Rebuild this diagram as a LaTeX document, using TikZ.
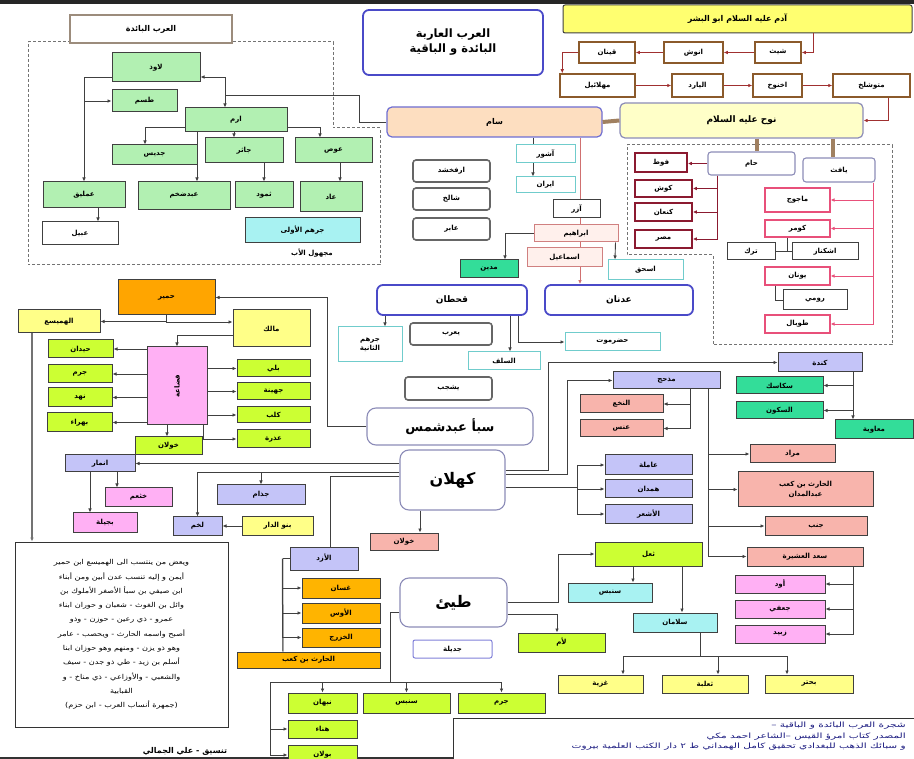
\documentclass[tikz,border=0pt]{standalone}
\usepackage{fontspec}
\usepackage{graphicx}
\usetikzlibrary{arrows.meta,backgrounds}
\newfontfamily\arabicfont[Script=Arabic]{DejaVu Sans}
\newfontfamily\arabicwide[Script=Arabic,FakeStretch=1.45]{DejaVu Sans}
\newfontfamily\arabicmid[Script=Arabic,FakeStretch=1.2]{DejaVu Sans}
\TeXXeTstate=1
\newcommand{\lbl}{\arabicfont\bfseries\fontsize{7}{8}\selectfont}
\definecolor{ggreen}{HTML}{B2F0B2}
\definecolor{limeg}{HTML}{CCFF33}
\definecolor{purp}{HTML}{C4C4F8}
\definecolor{salm}{HTML}{F8B4AC}
\definecolor{magp}{HTML}{FFB0F4}
\definecolor{orng}{HTML}{FFB400}
\definecolor{himy}{HTML}{FFA500}
\definecolor{yel}{HTML}{FFFF88}
\definecolor{adamy}{HTML}{FFFF70}
\definecolor{noahy}{HTML}{FFFFC8}
\definecolor{peach}{HTML}{FDDEC0}
\definecolor{cyanf}{HTML}{A8F2F2}
\definecolor{cyanb}{HTML}{70CCCC}
\definecolor{tealg}{HTML}{33DD99}
\definecolor{brownb}{HTML}{8B5A2B}
\definecolor{hamred}{HTML}{8B1A30}
\definecolor{japk}{HTML}{E8507A}
\definecolor{ibfill}{HTML}{FFF0EC}
\definecolor{ibdraw}{HTML}{D08080}
\definecolor{bgr}{HTML}{8C8CB8}
\definecolor{blueb}{HTML}{4A4AC8}
\definecolor{spinec}{HTML}{4B4BD0}
\definecolor{lc}{HTML}{404040}
\definecolor{arrred}{HTML}{A03030}
\definecolor{redline}{HTML}{D07070}
\definecolor{tanc}{HTML}{A08060}
\definecolor{srcblue}{HTML}{1A1A80}
\definecolor{oldtitle}{HTML}{9C8C7C}
\tikzset{
 bxbase/.style={font=\lbl, inner sep=0pt, line width=1pt, draw=black!75},
 gbox/.style={bxbase, fill=ggreen},
 lbox/.style={bxbase, fill=limeg},
 pbox/.style={bxbase, fill=purp},
 sbox/.style={bxbase, fill=salm},
 mbox/.style={bxbase, fill=magp},
 obox/.style={bxbase, fill=orng},
 ybox/.style={bxbase, fill=yel},
 cbox/.style={bxbase, fill=cyanf},
 cwbox/.style={bxbase, fill=white, draw=cyanb},
 tbox/.style={bxbase, fill=tealg},
 kbox/.style={bxbase, fill=white},
 brbox/.style={bxbase, fill=white, draw=brownb, line width=1.5pt},
 hbox/.style={bxbase, fill=white, draw=hamred, line width=1.6pt},
 jbox/.style={bxbase, fill=white, draw=japk, line width=1.1pt},
 ibox/.style={bxbase, fill=ibfill, draw=ibdraw},
 grbox/.style={bxbase, fill=white, draw=black!60, line width=1.6pt, rounded corners=3pt},
 bigr/.style={bxbase, fill=white, draw=bgr, line width=1.1pt, rounded corners=9pt},
 blr/.style={bxbase, fill=white, draw=blueb, line width=1.8pt, rounded corners=6pt},
 frm/.style={draw=black!55, line width=1pt, dash pattern=on 3pt off 2pt},
 ln/.style={draw=lc, line width=0.9pt},
 arr/.style={ln, -{Latex[length=4pt,width=3.6pt]}},
 barr/.style={arr, draw=arrred},
 harr/.style={arr, draw=hamred},
 jarr/.style={arr, draw=japk},
 redl/.style={ln, draw=redline},
 thickstem/.style={draw=tanc, line width=4pt},
}
\newcommand{\bx}[7]{%
 \pgfmathsetmacro\bxw{#5-#3}\pgfmathsetmacro\bxh{#6-#4}%
 \pgfmathsetmacro\bxcx{(#3+#5)/2}\pgfmathsetmacro\bxcy{(#4+#6)/2}%
 \node[#2, minimum width=\bxw pt, minimum height=\bxh pt] (#1) at (\bxcx,\bxcy) {#7};}
\begin{document}
\begin{tikzpicture}[x=1pt,y=-1pt]
\useasboundingbox (0,0) rectangle (914,759);
\fill[white] (0,0) rectangle (914,759);
\fill[black!85] (0,0) rectangle (914,4);
\fill[black!80] (0,757) rectangle (914,759);

% frames
\draw[frm] (28,42) -- (333,42) -- (333,128) -- (380,128) -- (380,265) -- (28,265) -- cycle;
\draw[frm] (627,145) -- (892,145) -- (892,345) -- (713,345) -- (713,255) -- (627,255) -- cycle;

% ===== top =====
\bx{Title}{blr, align=center, font=\arabicfont\bfseries\fontsize{11.5}{15}\selectfont}{363}{10}{543}{75}{\beginR العرب العاربة\endR\\\beginR البائدة و الباقية\endR}
\bx{Adam}{ybox, fill=adamy, rounded corners=2pt, font=\arabicfont\bfseries\fontsize{8}{9}\selectfont}{563}{5}{912}{33}{\beginR آدم عليه السلام ابو البشر\endR}
\bx{Seth}{brbox}{755}{42}{801}{63}{\beginR شيث\endR}
\bx{Enosh}{brbox}{664}{42}{723}{63}{\beginR انوش\endR}
\bx{Kenan}{brbox}{579}{42}{635}{63}{\beginR قينان\endR}
\bx{Mahal}{brbox}{560}{74}{635}{97}{\beginR مهلائيل\endR}
\bx{Jared}{brbox}{672}{74}{723}{97}{\beginR اليارد\endR}
\bx{Enoch}{brbox}{753}{74}{802}{97}{\beginR اخنوخ\endR}
\bx{Meth}{brbox}{833}{74}{910}{97}{\beginR متوشلخ\endR}
\bx{Noah}{bxbase, fill=noahy, draw=bgr, line width=1.2pt, rounded corners=5pt, font=\arabicfont\bfseries\fontsize{9}{10}\selectfont}{620}{103}{863}{138}{\beginR نوح عليه السلام\endR}
\bx{Sam}{bxbase, fill=peach, draw=blueb!80, line width=1.2pt, rounded corners=5pt, font=\arabicfont\bfseries\fontsize{8}{9}\selectfont}{387}{107}{602}{137}{\beginR سام\endR}

\draw[barr] ([xshift=75.5pt]Adam.south) |- (Seth.east);
\draw[barr] (Seth.west) -- (Enosh.east);
\draw[barr] (Enosh.west) -- (Kenan.east);
\draw[barr] (Kenan.west) -| ([xshift=3pt]Mahal.north west);
\draw[barr] (Mahal.east) -- (Jared.west);
\draw[barr] (Jared.east) -- (Enoch.west);
\draw[barr] (Enoch.east) -- (Meth.west);
\draw[barr] ([xshift=16.5pt]Meth.south) |- (Noah.east);
\draw[thickstem] (Sam.east) -- (Noah.west);

% ===== Ham and Japheth =====
\bx{Ham}{bxbase, fill=white, draw=bgr, line width=1.1pt, rounded corners=3pt}{708}{152}{795}{175}{\beginR حام\endR}
\bx{Jap}{bxbase, fill=white, draw=bgr, line width=1.1pt, rounded corners=3pt}{803}{158}{875}{182}{\beginR يافث\endR}
\draw[thickstem] ([xshift=15.5pt]Noah.south) -- ([xshift=5.5pt]Ham.north);
\draw[thickstem] ([xshift=91.5pt]Noah.south) -- ([xshift=-6pt]Jap.north);
\bx{Phut}{hbox}{635}{153}{687}{172}{\beginR فوط\endR}
\bx{Kush}{hbox}{635}{180}{692}{197}{\beginR كوش\endR}
\bx{Canaan}{hbox}{635}{203}{692}{221}{\beginR كنعان\endR}
\bx{Misr}{hbox}{635}{230}{692}{248}{\beginR مصر\endR}
\draw[harr] (Ham.west) -- (Ham.west -| Phut.east);
\draw[harr] ([xshift=10pt]Ham.south west) |- (Kush.east);
\draw[harr] ([xshift=10pt]Ham.south west) |- (Canaan.east);
\draw[harr] ([xshift=10pt]Ham.south west) |- (Misr.east);
\bx{Magog}{jbox}{765}{188}{830}{212}{\beginR ماجوج\endR}
\bx{Gomer}{jbox}{765}{220}{830}{237}{\beginR كومر\endR}
\bx{Yawan}{jbox}{765}{267}{830}{285}{\beginR يونان\endR}
\bx{Tubal}{jbox}{765}{315}{830}{333}{\beginR طوبال\endR}
\bx{Turk}{kbox}{727}{243}{775}{260}{\beginR ترك\endR}
\bx{Ashk}{kbox}{792}{243}{858}{260}{\beginR اشكناز\endR}
\bx{Rumi}{kbox}{783}{290}{847}{310}{\beginR رومي\endR}
\draw[jarr] ([xshift=34pt]Jap.south) |- (Magog.east);
\draw[jarr] ([xshift=34pt]Jap.south) |- (Gomer.east);
\draw[jarr] ([xshift=34pt]Jap.south) |- (Yawan.east);
\draw[jarr] ([xshift=34pt]Jap.south) |- (Tubal.east);
\draw[ln] (Turk.east) -- (Ashk.west);
\draw[ln] ([xshift=-10pt]Gomer.south) -- ([xshift=-10pt]Gomer.south |- Turk.east);
\draw[ln] ([xshift=-22pt]Yawan.south) |- (Rumi.west);

% ===== old Arabs =====
\bx{OldT}{bxbase, fill=white, draw=oldtitle, line width=1.3pt, font=\arabicfont\bfseries\fontsize{8}{9}\selectfont}{70}{15}{232}{43}{\beginR العرب البائدة\endR}
\bx{Lawidh}{gbox}{112}{53}{200}{82}{\beginR لاوذ\endR}
\bx{Tasm}{gbox}{112}{90}{177}{112}{\beginR طسم\endR}
\bx{Iram}{gbox}{185}{108}{287}{132}{\beginR ارم\endR}
\bx{Jadis}{gbox}{112}{145}{197}{165}{\beginR جديس\endR}
\bx{Jathir}{gbox}{205}{138}{283}{163}{\beginR جاثر\endR}
\bx{Aws0}{gbox}{295}{138}{372}{163}{\beginR عوص\endR}
\bx{Amliq}{gbox}{43}{182}{125}{208}{\beginR عمليق\endR}
\bx{Abdakhm}{gbox}{138}{182}{230}{210}{\beginR عبدضخم\endR}
\bx{Thamud}{gbox}{235}{182}{293}{208}{\beginR ثمود\endR}
\bx{Aad}{gbox}{300}{182}{362}{212}{\beginR عاد\endR}
\bx{Jurhum1}{cbox}{245}{218}{360}{243}{\beginR جرهم الأولى\endR}
\bx{Ubayl}{kbox}{42}{222}{118}{245}{\beginR عبيل\endR}
\node[font=\lbl] (unk) at (312,253) {\beginR مجهول الأب\endR};
\coordinate (lj) at (225,95);
\draw[ln] (Sam.west) -- ++(-27,0) |- (lj);
\draw[arr] (lj) |- ([yshift=-9.5pt]Lawidh.east);
\draw[arr] (lj) -- (lj |- Iram.north);
\draw[arr] ([yshift=-9.5pt]Lawidh.west) -| (Amliq.north);
\draw[arr] (Amliq.north |- Tasm.west) -- (Tasm.west);
\draw[arr] ([yshift=-7pt]Iram.west) -| ([xshift=-9.5pt]Jadis.north);
\draw[arr] ([yshift=-7pt]Iram.east) -| ([xshift=-13.5pt]Aws0.north);
\draw[arr] ([xshift=-2pt]Iram.south) -- ([xshift=-10pt]Jathir.north);
\draw[arr] ([xshift=-39pt]Iram.south) -- ([xshift=13pt]Abdakhm.north);
\draw[arr] ([xshift=20pt]Jathir.south) -- (Thamud.north);
\draw[arr] ([xshift=6.5pt]Aws0.south) -- ([xshift=9pt]Aad.north);
\draw[arr] ([xshift=14pt]Amliq.south) -- ([xshift=18pt]Ubayl.north);

% ===== Sam line =====
\bx{Arpa}{grbox}{413}{160}{490}{182}{\beginR ارفخشد\endR}
\bx{Shelah}{grbox}{413}{188}{490}{210}{\beginR شالخ\endR}
\bx{Eber}{grbox}{413}{218}{490}{240}{\beginR عابر\endR}
\bx{Ashur}{cwbox}{516}{145}{575}{163}{\beginR آشور\endR}
\bx{Iran}{cwbox}{516}{177}{575}{193}{\beginR ايران\endR}
\bx{Azar}{kbox}{553}{200}{600}{218}{\beginR آزر\endR}
\bx{Ibrahim}{ibox}{534}{225}{618}{242}{\beginR ابراهيم\endR}
\bx{Ismail}{ibox}{527}{248}{602}{267}{\beginR اسماعيل\endR}
\bx{Midian}{tbox}{460}{260}{518}{278}{\beginR مدين\endR}
\bx{Isaac}{cwbox}{608}{260}{683}{280}{\beginR اسحق\endR}
\bx{Qahtan}{blr, font=\arabicfont\bfseries\fontsize{9}{10}\selectfont}{377}{285}{527}{315}{\beginR قحطان\endR}
\bx{Adnan}{blr, font=\arabicfont\bfseries\fontsize{9}{10}\selectfont}{545}{285}{693}{315}{\beginR عدنان\endR}
\draw[ln] ([xshift=38.5pt]Sam.south) -- ([xshift=-12.5pt]Ashur.north);
\draw[arr] ([xshift=-12.5pt]Ashur.south) -- ([xshift=-12.5pt]Iran.north);
\draw[redl] ([xshift=85.5pt]Sam.south) -- ([xshift=3.5pt]Azar.north);
\draw[redl] ([xshift=3.5pt]Azar.south) -- ([xshift=4pt]Ibrahim.north);
\draw[redl] ([xshift=4pt]Ibrahim.south) -- ([xshift=15.5pt]Ismail.north);
\draw[arr, draw=redline] ([xshift=15.5pt]Ismail.south) -- ([xshift=-39pt]Adnan.north);
\draw[arr] (Ibrahim.west) -| ([xshift=16pt]Midian.north);
\draw[arr] ([xshift=-3pt]Ibrahim.south east) -- ([xshift=-30.5pt]Isaac.north);

\bx{Jurhum2}{cwbox, align=center, font=\arabicfont\bfseries\fontsize{7}{9}\selectfont}{338}{327}{402}{362}{\beginR جرهم\endR\\\beginR الثانية\endR}
\bx{Yarub}{grbox}{410}{323}{492}{345}{\beginR يعرب\endR}
\bx{Salaf}{cwbox}{468}{352}{540}{370}{\beginR السلف\endR}
\bx{Hadra}{cwbox}{565}{333}{660}{351}{\beginR حضرموت\endR}
\bx{Yashjub}{grbox}{405}{377}{492}{400}{\beginR يشجب\endR}
\bx{Saba}{bigr, font=\arabicfont\bfseries\fontsize{13}{15}\selectfont}{367}{408}{533}{445}{\beginR سبأ عبدشمس\endR}
\bx{Kahlan}{bigr, font=\arabicfont\bfseries\fontsize{16}{18}\selectfont}{400}{450}{505}{510}{\beginR كهلان\endR}
\bx{Khawlan2}{sbox}{370}{533}{438}{550}{\beginR خولان\endR}
\bx{Tayy}{bigr, font=\arabicfont\bfseries\fontsize{16}{18}\selectfont}{400}{578}{507}{627}{\beginR طيئ\endR}
\bx{Jadila}{bxbase, fill=white, draw=blueb!70, rounded corners=2pt}{413}{640}{492}{658}{\beginR جديلة\endR}
\draw[arr] ([xshift=-67pt]Qahtan.south) -- ([xshift=15pt]Jurhum2.north);
\draw[arr] ([xshift=58pt]Qahtan.south) -- ([xshift=6pt]Salaf.north);
\draw[arr] ([xshift=66pt]Qahtan.south) |- (Hadra.west);
\draw[arr] ([xshift=-32.5pt]Kahlan.south) -- ([xshift=16pt]Khawlan2.north);

% ===== Himyar / Qudaa =====
\bx{Himyar}{bxbase, fill=himy}{118}{280}{215}{315}{\beginR حمير\endR}
\bx{Hamaysa}{ybox}{18}{310}{100}{333}{\beginR الهميسع\endR}
\bx{Malik}{ybox}{233}{310}{310}{347}{\beginR مالك\endR}
\bx{Qudaa}{mbox}{147}{347}{207}{425}{\rotatebox{90}{\beginR قضاعة\endR}}
\bx{Haydan}{lbox}{48}{340}{113}{358}{\beginR حيدان\endR}
\bx{Jarm1}{lbox}{48}{365}{112}{383}{\beginR جرم\endR}
\bx{Nahd}{lbox}{48}{388}{112}{407}{\beginR نهد\endR}
\bx{Bahra}{lbox}{47}{413}{112}{432}{\beginR بهراء\endR}
\bx{Bali}{lbox}{237}{360}{310}{377}{\beginR بلي\endR}
\bx{Juhayna}{lbox}{237}{383}{310}{400}{\beginR جهينة\endR}
\bx{Kalb}{lbox}{237}{407}{310}{423}{\beginR كلب\endR}
\bx{Udhra}{lbox}{237}{430}{310}{448}{\beginR عذرة\endR}
\bx{Khawlan1}{lbox}{135}{437}{202}{455}{\beginR خولان\endR}
\draw[arr] (Saba.west) -- ++(-39,0) |- (Himyar.east);
\draw[arr] (Himyar.south) |- (Hamaysa.east);
\draw[arr] (Himyar.south) |- ([yshift=6.5pt]Malik.west);
\draw[arr] ([yshift=-6.5pt]Malik.west) -| (Qudaa.north);
\draw[arr] (Qudaa.west |- Haydan.east) -- (Haydan.east);
\draw[arr] (Qudaa.west |- Jarm1.east) -- (Jarm1.east);
\draw[arr] (Qudaa.west |- Nahd.east) -- (Nahd.east);
\draw[arr] (Qudaa.west |- Bahra.east) -- (Bahra.east);
\draw[arr] (Qudaa.east |- Bali.west) -- (Bali.west);
\draw[arr] (Qudaa.east |- Juhayna.west) -- (Juhayna.west);
\draw[arr] (Qudaa.east |- Kalb.west) -- (Kalb.west);
\draw[arr] ([xshift=-4pt]Qudaa.south east) |- (Udhra.west);
\draw[arr] ([xshift=-10pt]Qudaa.south) -- ([xshift=-1.5pt]Khawlan1.north);

% ===== Kahlan west =====
\bx{Anmar}{pbox}{65}{455}{135}{472}{\beginR انمار\endR}
\bx{Khatham}{mbox}{105}{488}{172}{507}{\beginR خثعم\endR}
\bx{Bajila}{mbox}{73}{513}{137}{532}{\beginR بجيلة\endR}
\bx{Judham}{pbox}{217}{485}{305}{505}{\beginR جذام\endR}
\bx{Lakhm}{pbox}{173}{517}{222}{535}{\beginR لخم\endR}
\bx{BanuDar}{ybox}{242}{517}{313}{535}{\beginR بنو الدار\endR}
\bx{Azd}{pbox}{290}{547}{358}{570}{\beginR الأزد\endR}
\bx{Ghassan}{obox}{302}{578}{380}{598}{\beginR غسان\endR}
\bx{Aws}{obox}{302}{603}{380}{623}{\beginR الأوس\endR}
\bx{Khazraj}{obox}{302}{628}{380}{647}{\beginR الخزرج\endR}
\bx{Harith2}{obox}{237}{652}{380}{668}{\beginR الحارث بن كعب\endR}
\draw[arr] ([yshift=16.5pt]Kahlan.west) -- (Anmar.east);
\draw[arr] ([xshift=17pt]Anmar.south) -- ([xshift=-21.5pt]Khatham.north);
\draw[arr] ([xshift=-10pt]Anmar.south) -- ([xshift=-15pt]Bajila.north);
\draw[arr] ([yshift=8pt]Kahlan.west) -| (Lakhm.north);
\draw[arr] ([yshift=8pt]Kahlan.west) -| (Judham.north);
\draw[arr] (BanuDar.west) -- (Lakhm.east);
\draw[ln] ([yshift=4pt]Kahlan.west) -| ([xshift=6pt]Azd.north);
\draw[ln, line width=1.5pt, draw=black!55] ([xshift=-7pt]Azd.west) -- ([xshift=-25.5pt]Harith2.north);
\draw[ln] (Azd.west) -- ([xshift=-7pt]Azd.west);
\draw[arr] ([xshift=-7pt]Azd.west) |- (Ghassan.west);
\draw[arr] ([xshift=-7pt]Azd.west) |- (Aws.west);
\draw[arr] ([xshift=-7pt]Azd.west) |- (Khazraj.west);

% text box
\bx{TBox}{bxbase, fill=white, draw=black!80, align=center, font=\arabicmid\fontsize{6.8}{14.3}\selectfont}{15}{542}{228}{727}{%
\beginR ويعض من ينتسب الى الهميسع ابن حمير\endR\\
\beginR أيمن و إليه تنسب عدن أبين ومن أبناء\endR\\
\beginR ابن صيفي بن سبأ الأصغر الأملوك بن\endR\\
\beginR وائل بن الغوث - شعبان و حوران ابناء\endR\\
\beginR عمرو - ذي رعين - حوزن - وذو\endR\\
\beginR أصبح واسمه الحارث - ويحصب - عامر\endR\\
\beginR وهو ذو يزن - ومنهم وهو حوزان ابنا\endR\\
\beginR أسلم بن زيد - طي ذو جدن - سيف\endR\\
\beginR والشعبي - والأوزاعي - ذي مناخ - و\endR\\
\beginR القبابية\endR\\
\beginR (جمهرة أنساب العرب - ابن حزم)\endR}
\draw[ln, line width=1.5pt, draw=black!55, -{Latex[length=4pt,width=3.6pt]}] ([xshift=-27pt]Hamaysa.south) -- ([xshift=-89.5pt]TBox.north);

% ===== Kahlan east =====
\bx{Kinda}{pbox}{778}{353}{862}{372}{\beginR كندة\endR}
\bx{Saksak}{tbox}{736}{377}{823}{394}{\beginR سكاسك\endR}
\bx{Sakun}{tbox}{736}{402}{823}{419}{\beginR السكون\endR}
\bx{Muawiya}{tbox}{835}{420}{913}{439}{\beginR معاوية\endR}
\bx{Madhhij}{pbox}{613}{372}{720}{389}{\beginR مذحج\endR}
\bx{Nakha}{sbox}{580}{395}{663}{413}{\beginR النخع\endR}
\bx{Ans}{sbox}{580}{420}{663}{437}{\beginR عنس\endR}
\bx{Murad}{sbox}{750}{445}{835}{463}{\beginR مراد\endR}
\bx{HarithA}{sbox, align=center, font=\arabicfont\bfseries\fontsize{7}{10}\selectfont}{738}{472}{873}{507}{\beginR الحارث بن كعب\endR\\\beginR عبدالمدان\endR}
\bx{Junb}{sbox}{765}{517}{867}{535}{\beginR جنب\endR}
\bx{Saad}{sbox}{747}{547}{863}{566}{\beginR سعد العشيرة\endR}
\bx{Amila}{pbox}{605}{455}{692}{475}{\beginR عاملة\endR}
\bx{Hamdan}{pbox}{605}{480}{692}{498}{\beginR همدان\endR}
\bx{Ashar}{pbox}{605}{505}{692}{523}{\beginR الأشعر\endR}
\bx{Awd}{mbox}{735}{575}{825}{593}{\beginR أود\endR}
\bx{Jufi}{mbox}{735}{600}{825}{618}{\beginR جعفي\endR}
\bx{Zubayd}{mbox}{735}{625}{825}{643}{\beginR زبيد\endR}
\draw[arr] ([yshift=10pt]Kahlan.east) -- ++(43,0) |- (Kinda.west);
\draw[arr] ([xshift=33pt]Kinda.south) |- (Saksak.east);
\draw[arr] ([xshift=33pt]Kinda.south) |- (Sakun.east);
\draw[arr] ([xshift=33pt]Kinda.south) -- ([xshift=-21pt]Muawiya.north);
\draw[arr] ([yshift=6pt]Kahlan.east) -- ++(62,0) |- (Madhhij.west);
\draw[arr] ([xshift=23.5pt]Madhhij.south) |- (Nakha.east);
\draw[arr] ([xshift=23.5pt]Madhhij.south) |- (Ans.east);
\draw[arr] ([xshift=41.5pt]Madhhij.south) |- (Murad.west);
\draw[arr] ([xshift=41.5pt]Madhhij.south) |- (HarithA.west);
\draw[arr] ([xshift=41.5pt]Madhhij.south) |- (Junb.west);
\draw[arr] ([xshift=41.5pt]Madhhij.south) |- (Saad.west);
\coordinate (kb) at (577,487);
\draw[ln] ([yshift=-7pt]Kahlan.east) -- (kb);
\draw[ln] (kb |- Amila.west) -- (kb |- Ashar.west);
\draw[arr] (kb |- Amila.west) -- (Amila.west);
\draw[arr] (kb |- Hamdan.west) -- (Hamdan.west);
\draw[arr] (kb |- Ashar.west) -- (Ashar.west);
\draw[arr] ([xshift=48pt]Saad.south) |- (Awd.east);
\draw[arr] ([xshift=48pt]Saad.south) |- (Jufi.east);
\draw[arr] ([xshift=48pt]Saad.south) |- (Zubayd.east);

% ===== Tayy =====
\bx{Thual}{lbox}{595}{542}{702}{566}{\beginR ثعل\endR}
\bx{Sinbis1}{cbox}{568}{583}{652}{602}{\beginR سنبس\endR}
\bx{Salaman}{cbox}{633}{613}{717}{632}{\beginR سلامان\endR}
\bx{Lam}{lbox}{518}{633}{605}{652}{\beginR لأم\endR}
\bx{Ghaziya}{ybox}{558}{675}{643}{693}{\beginR غزية\endR}
\bx{Thalaba}{ybox}{662}{675}{748}{693}{\beginR ثعلبة\endR}
\bx{Buhtur}{ybox}{765}{675}{853}{693}{\beginR بحتر\endR}
\bx{Nabhan}{lbox}{288}{693}{357}{713}{\beginR نبهان\endR}
\bx{Sinbis2}{lbox}{363}{693}{450}{713}{\beginR سنبس\endR}
\bx{Jarm2}{lbox}{458}{693}{545}{713}{\beginR جرم\endR}
\bx{Hunaa}{lbox}{288}{720}{357}{738}{\beginR هناء\endR}
\bx{Bolan}{lbox}{288}{745}{357}{765}{\beginR بولان\endR}
\draw[arr] (Tayy.east) -- ++(51,0) |- (Thual.west);
\draw[arr] ([yshift=-12pt]Tayy.east) -| ([xshift=-4.5pt]Lam.north);
\draw[arr] ([xshift=-15.5pt]Thual.south) -- ([xshift=23pt]Sinbis1.north);
\draw[arr] ([xshift=33.5pt]Thual.south) -- ([xshift=7pt]Salaman.north);
\coordinate (sb) at (700,656);
\coordinate (sbl) at (623,656);
\coordinate (sbm) at (718,656);
\coordinate (sbr) at (787,656);
\draw[ln] ([xshift=25pt]Salaman.south) -- (sb);
\draw[ln] (sbl) -- (sbr);
\draw[arr] (sbl) -- (sbl |- Ghaziya.north);
\draw[arr] (sbm) -- (sbm |- Thalaba.north);
\draw[arr] (sbr) -- (sbr |- Buhtur.north);
\coordinate (tb) at (390,682);
\coordinate (tbl) at (270,682);
\draw[ln] ([yshift=-10pt]Tayy.west) -| (tb);
\draw[ln] (tbl) -- (Jarm2.north |- tbl);
\draw[arr] (Nabhan.north |- tbl) -- (Nabhan.north);
\draw[arr] (Sinbis2.north |- tbl) -- (Sinbis2.north);
\draw[arr] (Jarm2.north |- tbl) -- (Jarm2.north);
\draw[ln] (tbl) -- (tbl |- Bolan.west);
\draw[arr] (tbl |- Hunaa.west) -- (Hunaa.west);
\draw[arr] (tbl |- Bolan.west) -- (Bolan.west);

% source box
\node[draw=black!80, line width=1pt, fill=white, minimum width=461pt, minimum height=47pt, anchor=north west, inner sep=0pt] (Src) at (453,718) {};
\node[anchor=north east, align=right, inner sep=0pt, text=srcblue, font=\arabicwide\fontsize{7.3}{10.5}\selectfont] (SrcT) at (906,722) {\beginR شجرة العرب البائدة و الباقية –\endR\\\beginR المصدر كتاب امرؤ القيس –الشاعر احمد مكي\endR\\\beginR و سبائك الذهب للبغدادي تحقيق كامل الهمداني ط ٢ دار الكتب العلمية بيروت\endR};
\node[font=\arabicfont\bfseries\fontsize{8}{9}\selectfont, inner sep=0pt] (credit) at (185,751) {\beginR تنسيق - علي الجمالي\endR};

% spine
\begin{scope}[on background layer]
\draw[draw=spinec, line width=7pt] ([xshift=-42.5pt]Sam.south) -- ([xshift=-0.5pt]Jadila.north);
\end{scope}
\end{tikzpicture}
\end{document}
